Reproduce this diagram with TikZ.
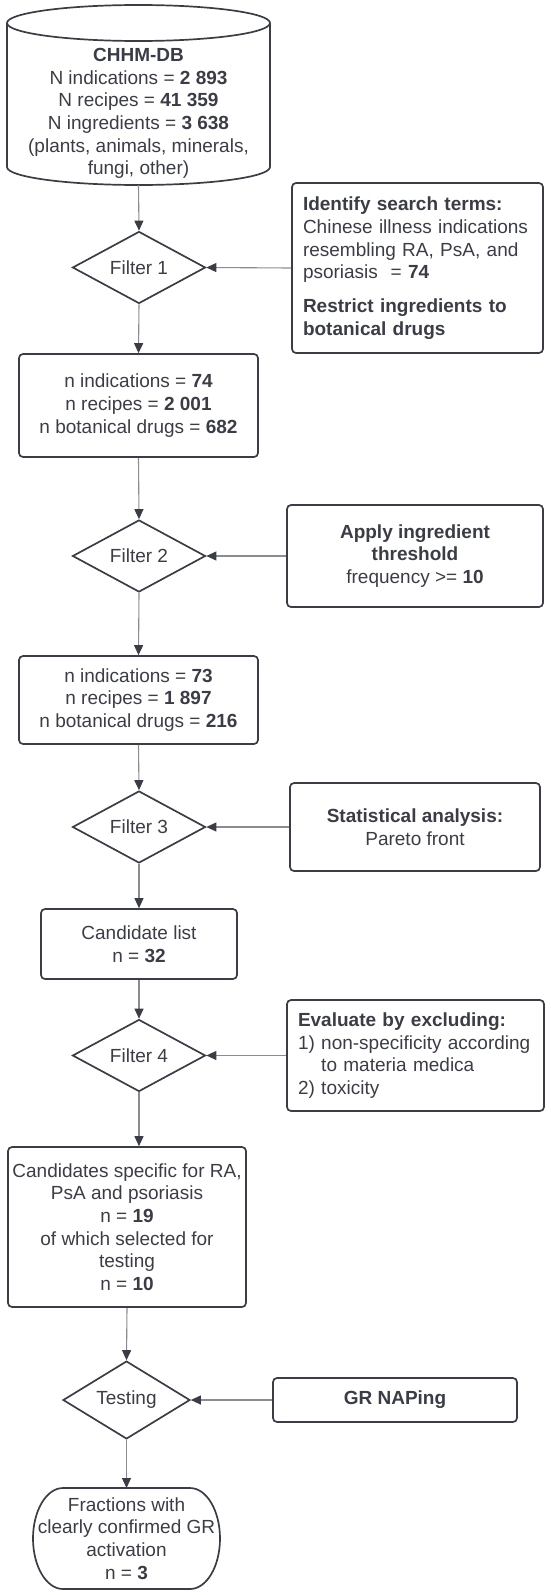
\documentclass[tikz,border=0pt]{standalone}
\usepackage{fontspec}
\setmainfont{Liberation Sans}
\usepackage{xcolor}
\usepackage{tikz}
\usetikzlibrary{arrows.meta,positioning,shapes.geometric}
\definecolor{lcdark}{HTML}{3A3D45}
\definecolor{lcline}{HTML}{8A8C90}
\newcommand\lcfont{\fontsize{19pt}{22.7pt}\selectfont}
\tikzset{
  box/.style={draw=lcdark,line width=1.7pt,rounded corners=4pt,text=lcdark,align=center,inner sep=0pt,font=\lcfont},
  side/.style={box,align=left,inner xsep=11pt},
  filt/.style={diamond,draw=lcdark,line width=1.7pt,text=lcdark,font=\lcfont,inner sep=0pt,minimum width=133pt,minimum height=65pt},
  plain/.style={inner sep=0pt,outer sep=0pt,text=lcdark,align=center,font=\lcfont},
  ar/.style={draw=lcline,line width=1.1pt,-{Triangle[length=10pt,width=9pt,color=lcdark]}},
}
\begin{document}
\begin{tikzpicture}[x=1pt,y=-1pt]
  \useasboundingbox (0,0) rectangle (550,1595);
  \node[plain,minimum width=263pt,minimum height=180pt] (db) at (138.5,95) {};
  \draw[lcdark,line width=1.7pt] (db.north west) ++(0,18) -- ++(0,144) arc[start angle=180,end angle=360,x radius=131.5pt,y radius=18pt] -- ++(0,-144);
  \draw[lcdark,line width=1.7pt] (db.north) ++(0,18) ellipse[x radius=131.5pt,y radius=18pt];
  \node[plain] (dbtext) at (138.5,113.5) {\textbf{CHHM-DB}\\N indications = \textbf{2 893}\\N recipes = \textbf{41 359}\\N ingredients = \textbf{3 638}\\(plants, animals, minerals,\\fungi, other)};

  \node[filt] (f1) at (139,267.5) {Filter 1};
  \node[side,text width=229pt,minimum height=170pt] (terms) at (417.5,268) {\textbf{Identify search terms:}\\Chinese illness indications\\resembling RA, PsA, and\\psoriasis\ \ = \textbf{74}\\[11pt]\textbf{Restrict ingredients to}\\\textbf{botanical drugs}};
  \node[box,minimum width=239pt,minimum height=103pt] (set1) at (138.5,405.5) {n indications = \textbf{74}\\n recipes = \textbf{2 001}\\n botanical drugs = \textbf{682}};

  \node[filt,minimum height=66pt] (f2) at (139,556) {Filter 2};
  \node[box,minimum width=256pt,minimum height=102pt] (thresh) at (415,556) {\textbf{Apply ingredient}\\\textbf{threshold}\\frequency >= \textbf{10}};
  \node[box,minimum width=239pt,minimum height=88pt] (set2) at (138.5,700) {n indications = \textbf{73}\\n recipes = \textbf{1 897}\\n botanical drugs = \textbf{216}};

  \node[filt,minimum height=62pt] (f3) at (139,827) {Filter 3};
  \node[box,minimum width=250pt,minimum height=88pt] (stats) at (415,827) {\textbf{Statistical analysis:}\\Pareto front};
  \node[box,minimum width=196pt,minimum height=70pt] (cand) at (139,944) {Candidate list\\n = \textbf{32}};

  \node[filt] (f4) at (139,1055.5) {Filter 4};
  \node[side,text width=235pt,minimum height=111pt] (excl) at (415.5,1055.5) {\textbf{Evaluate by excluding:}\\1) non-specificity according\\\phantom{1)\ }to materia medica\\2) toxicity};
  \node[box,minimum width=238pt,minimum height=160pt] (spec) at (127,1227) {Candidates specific for RA,\\PsA and psoriasis\\n = \textbf{19}\\of which selected for\\testing\\n = \textbf{10}};

  \node[filt,minimum width=127pt,minimum height=66pt] (test) at (126.5,1400) {Testing};
  \node[box,minimum width=244pt,minimum height=44pt] (naping) at (395,1400) {\textbf{GR NAPing}};
  \node[plain,minimum width=187pt,minimum height=101pt] (fin) at (126.5,1538.5) {Fractions with\\clearly confirmed GR\\activation\\n = \textbf{3}};
  \draw[lcdark,line width=1.7pt] ([xshift=30pt]fin.north west) -- ([xshift=-30pt]fin.north east) arc[start angle=90,end angle=-90,x radius=30pt,y radius=50.5pt] -- ([xshift=30pt]fin.south west) arc[start angle=270,end angle=90,x radius=30pt,y radius=50.5pt] -- cycle;

  \foreach \a/\b in {db/f1,f1/set1,set1/f2,f2/set2,set2/f3,f3/cand,cand/f4,spec/test,test/fin}
    \draw[ar] (\a.south) -- (\b.north);
  \draw[ar] (f4.south) -- (f4.south |- spec.north);
  \foreach \a/\b in {terms/f1,thresh/f2,stats/f3,excl/f4,naping/test}
    \draw[ar] (\a.west) -- (\b.east);
\end{tikzpicture}
\end{document}
